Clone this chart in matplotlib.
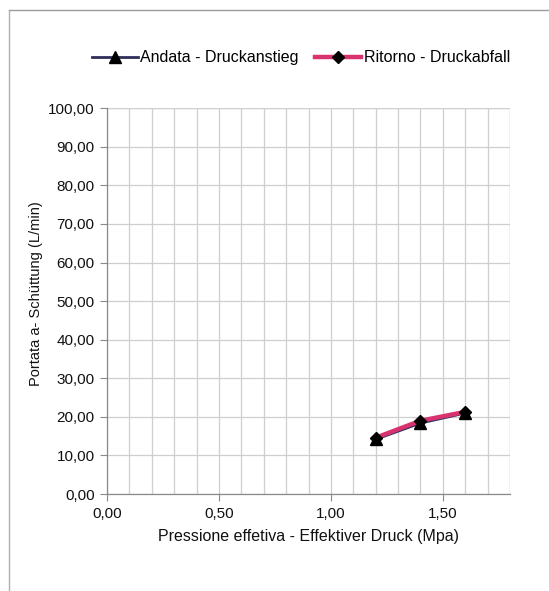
import matplotlib
matplotlib.use("Agg")
import matplotlib.pyplot as plt
from matplotlib.lines import Line2D
from matplotlib.ticker import FuncFormatter, MultipleLocator

plt.rcParams["font.family"] = ["Liberation Sans", "DejaVu Sans"]

# pressure (MPa) vs. flow (L/min)
pressure = [1.2, 1.4, 1.6]
flow_up = [14.2, 18.4, 21.0]      # Andata - Druckanstieg
flow_down = [14.6, 19.0, 21.3]    # Ritorno - Druckabfall

labels = ["Andata - Druckanstieg", "Ritorno - Druckabfall"]
x_label = "Pressione effetiva - Effektiver Druck (Mpa)"
y_label = "Portata a- Schüttung (L/min)"

fig = plt.figure(figsize=(5.49, 5.91), dpi=100)
ax = fig.add_axes([0.195, 0.164, 0.734, 0.653])

# chart frame (left and top edges only show)
fig.add_artist(Line2D([0.016, 1.0], [0.983, 0.983], color="#9a9a9a", lw=1.0))
fig.add_artist(Line2D([0.016, 0.016], [0.0, 0.983], color="#b0b0b0", lw=1.0))

ax.plot(pressure, flow_up, color="#2e2e5e", lw=2.0, marker="^",
        markersize=8, markerfacecolor="black", markeredgecolor="black",
        label=labels[0], zorder=3)
ax.plot(pressure, flow_down, color="#d8336e", lw=3.2, marker="D",
        markersize=6, markerfacecolor="black", markeredgecolor="black",
        label=labels[1], zorder=4)

ax.set_xlim(0, 1.8)
ax.set_ylim(0, 100)
ax.xaxis.set_major_locator(MultipleLocator(0.5))
ax.xaxis.set_minor_locator(MultipleLocator(0.1))
ax.yaxis.set_major_locator(MultipleLocator(10))

comma = FuncFormatter(lambda v, _: f"{v:.2f}".replace(".", ","))
ax.xaxis.set_major_formatter(comma)
ax.yaxis.set_major_formatter(comma)

grid_col = "#cfcfcf"
ax.grid(True, which="both", axis="x", color=grid_col, lw=0.9)
ax.grid(True, which="major", axis="y", color=grid_col, lw=0.9)
ax.axvline(1.8, color=grid_col, lw=0.9)
ax.axhline(100, color=grid_col, lw=0.9)
ax.set_axisbelow(True)

for side in ["top", "right"]:
    ax.spines[side].set_visible(False)
for side in ["left", "bottom"]:
    ax.spines[side].set_color("#8a8a8a")
    ax.spines[side].set_linewidth(0.9)

ax.tick_params(axis="both", which="major", direction="out", length=5,
               color="#8a8a8a", labelsize=11, labelcolor="#111111", pad=4)
ax.tick_params(axis="x", which="minor", length=0)

ax.set_xlabel(x_label, fontsize=11.5, color="#111111", labelpad=6)
ax.set_ylabel(y_label, fontsize=10.5, color="#111111")
ax.yaxis.set_label_coords(-0.16, 0.52)

fig.legend(loc="center", bbox_to_anchor=(0.548, 0.902), ncol=2,
           frameon=False, fontsize=11.5, handlelength=2.9,
           handletextpad=0.15, columnspacing=1.0)

fig.savefig("out.png", dpi=100, facecolor="white")
